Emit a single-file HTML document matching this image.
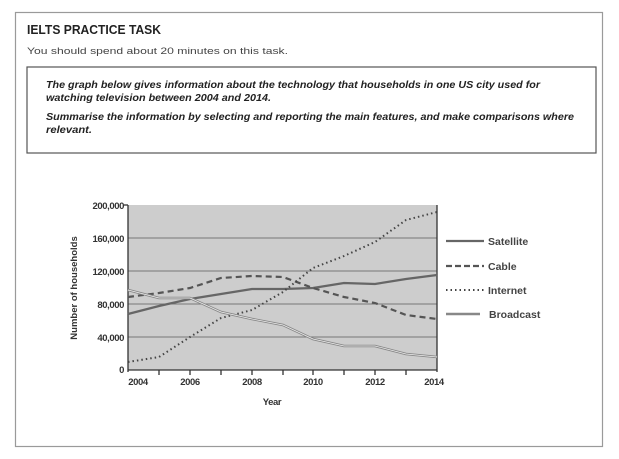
<!DOCTYPE html>
<html><head><meta charset="utf-8"><style>
html,body{margin:0;padding:0;background:#fff;}
body{width:619px;height:459px;overflow:hidden;position:relative;font-family:"Liberation Sans",sans-serif;}
</style></head><body>
<svg width="619" height="459" viewBox="0 0 619 459" xmlns="http://www.w3.org/2000/svg" style="position:absolute;left:0;top:0">
<rect x="15.5" y="12.5" width="587" height="434" fill="#fff" stroke="#9a9a9a" stroke-width="1.2"/>
<text x="27" y="34" font-size="12.5" font-weight="bold" fill="#222" textLength="134" lengthAdjust="spacingAndGlyphs">IELTS PRACTICE TASK</text>
<text x="27" y="54" font-size="9.5" fill="#444" textLength="261" lengthAdjust="spacingAndGlyphs">You should spend about 20 minutes on this task.</text>
<rect x="27" y="67" width="569" height="86" fill="#fff" stroke="#555" stroke-width="1.2"/>
<g font-size="10.3" font-weight="bold" font-style="italic" fill="#222">
<text x="46" y="88" textLength="494" lengthAdjust="spacingAndGlyphs">The graph below gives information about the technology that households in one US city used for</text>
<text x="46" y="101" textLength="225" lengthAdjust="spacingAndGlyphs">watching television between 2004 and 2014.</text>
<text x="46" y="120" textLength="528" lengthAdjust="spacingAndGlyphs">Summarise the information by selecting and reporting the main features, and make comparisons where</text>
<text x="46" y="133" textLength="46" lengthAdjust="spacingAndGlyphs">relevant.</text>
</g>
<rect x="128" y="205" width="309" height="165" fill="#cdcdcd"/>
<g stroke="#777" stroke-width="1">
<line x1="128" y1="238" x2="437" y2="238"/>
<line x1="128" y1="271" x2="437" y2="271"/>
<line x1="128" y1="304" x2="437" y2="304"/>
<line x1="128" y1="337" x2="437" y2="337"/>
</g>
<g stroke="#333" stroke-width="1.3">
<line x1="128" y1="205" x2="128" y2="372"/>
<line x1="437" y1="205" x2="437" y2="372"/>
<line x1="124" y1="205" x2="128" y2="205"/>
<line x1="128" y1="370" x2="437" y2="370"/>
<line x1="159" y1="370" x2="159" y2="375"/><line x1="190" y1="370" x2="190" y2="375"/><line x1="221" y1="370" x2="221" y2="375"/><line x1="252" y1="370" x2="252" y2="375"/><line x1="283" y1="370" x2="283" y2="375"/><line x1="313" y1="370" x2="313" y2="375"/><line x1="344" y1="370" x2="344" y2="375"/><line x1="375" y1="370" x2="375" y2="375"/><line x1="406" y1="370" x2="406" y2="375"/>
</g>
<g font-size="9.5" font-weight="bold" fill="#333" text-anchor="end" letter-spacing="-0.4">
<text x="124" y="209">200,000</text><text x="124" y="242">160,000</text><text x="124" y="275">120,000</text><text x="124" y="308">80,000</text><text x="124" y="341">40,000</text><text x="124" y="373">0</text>
</g>
<g font-size="9.5" font-weight="bold" fill="#333" text-anchor="middle" letter-spacing="-0.4">
<text x="138" y="385">2004</text><text x="190" y="385">2006</text><text x="252" y="385">2008</text><text x="313" y="385">2010</text><text x="375" y="385">2012</text><text x="434" y="385">2014</text>
<text x="272" y="405">Year</text>
</g>
<text transform="translate(77,288) rotate(-90)" font-size="9.5" font-weight="bold" fill="#333" text-anchor="middle">Number of households</text>
<g fill="none">
<polyline stroke="#666" stroke-width="2.2" points="128,314 159,306 190,299 221,294 252,289 283,289 313,288 344,283 375,284 406,279 437,275"/>
<polyline stroke="#555" stroke-width="2.2" stroke-dasharray="6,4" points="128,297 159,293 190,288 221,278 252,276 283,277 313,288 344,297 375,303 406,315 437,319"/>
<polyline stroke="#444" stroke-width="2" stroke-dasharray="1.5,3" points="128,362 159,357 190,337 221,318 252,310 283,292 313,268 344,256 375,242 406,220 437,212"/>
<polyline stroke="#888" stroke-width="2.5" points="128,290 159,298 190,298 221,312 252,319 283,325 313,339 344,346 375,346 406,354 437,357"/>
<polyline stroke="#eee" stroke-width="0.7" points="128,290 159,298 190,298 221,312 252,319 283,325 313,339 344,346 375,346 406,354 437,357"/>
</g>
<g fill="none">
<line x1="446" y1="241" x2="484" y2="241" stroke="#666" stroke-width="2.2"/>
<line x1="446" y1="266" x2="484" y2="266" stroke="#555" stroke-width="2.2" stroke-dasharray="6,3"/>
<line x1="446" y1="290" x2="486" y2="290" stroke="#444" stroke-width="2" stroke-dasharray="1.5,3"/>
<line x1="446" y1="314" x2="480" y2="314" stroke="#888" stroke-width="2.5"/>
</g>
<g font-size="10.5" font-weight="bold" fill="#444">
<text x="488" y="245">Satellite</text><text x="488" y="270">Cable</text><text x="488" y="294">Internet</text><text x="489" y="318">Broadcast</text>
</g>
</svg>
</body></html>
